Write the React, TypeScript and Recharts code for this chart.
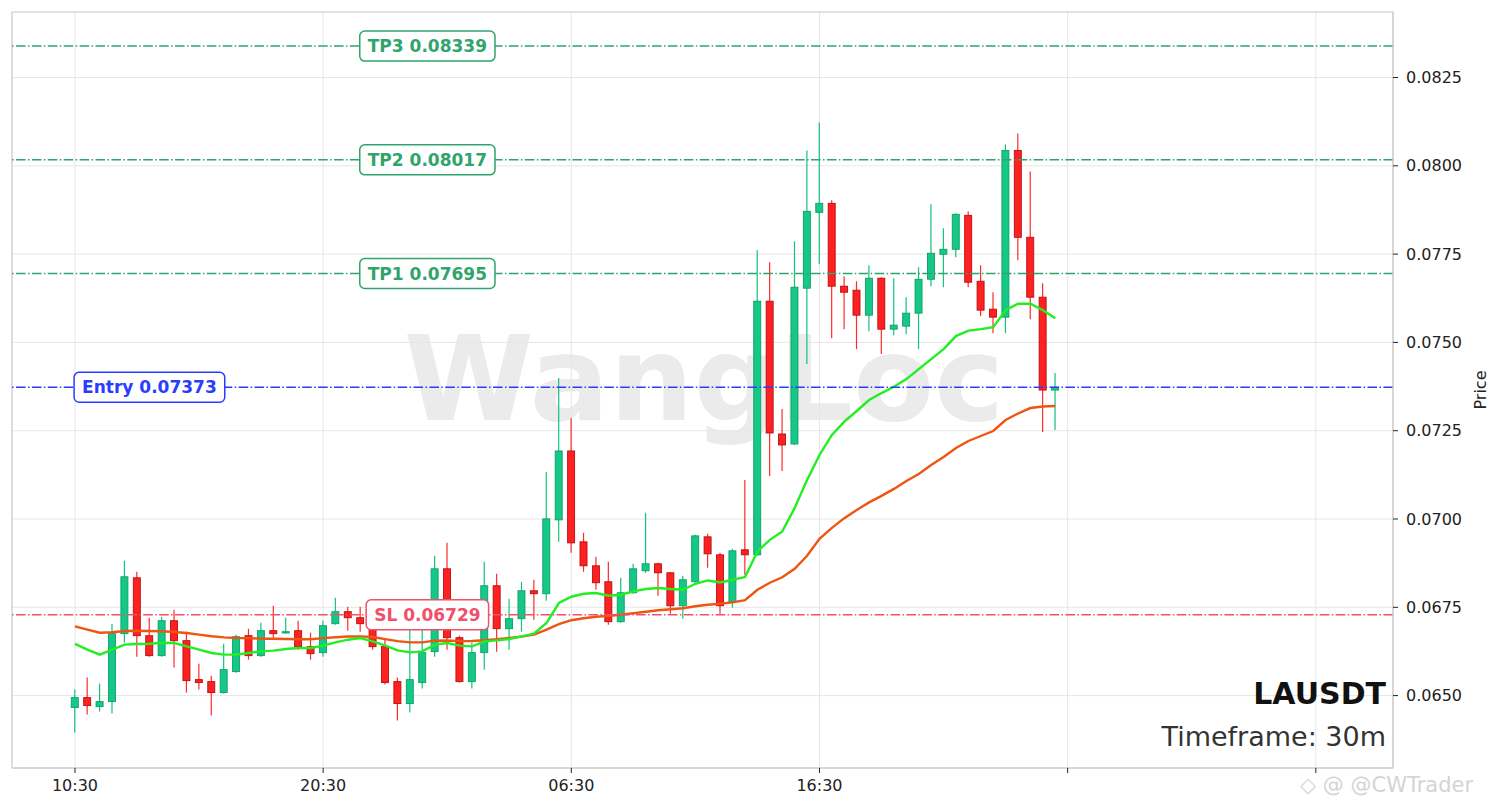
import React from 'react';
import {
  ComposedChart,
  Bar,
  Line,
  XAxis,
  YAxis,
  CartesianGrid,
  ReferenceLine,
  ReferenceDot,
  ReferenceArea,
} from 'recharts';

// ---------------- data ----------------
const opens = [
  0.064661, 0.064943, 0.064689, 0.06483, 0.066753, 0.068336, 0.066696, 0.066131, 0.06712, 0.066555,
  0.065452, 0.065396, 0.065085, 0.065679, 0.066696, 0.066131, 0.066838, 0.066781, 0.066838, 0.066385,
  0.066216, 0.067036, 0.067375, 0.067205, 0.066951, 0.066385, 0.065396, 0.064774, 0.065368, 0.066244,
  0.06859, 0.06664, 0.065396, 0.066216, 0.06811, 0.066894, 0.067177, 0.067968, 0.067884, 0.069976,
  0.071926, 0.069354, 0.068675, 0.068223, 0.067092, 0.067912, 0.068534, 0.068732, 0.068477, 0.067544,
  0.068223, 0.069495, 0.068986, 0.067657, 0.069128, 0.068986, 0.076167, 0.072407, 0.072124, 0.076535,
  0.078683, 0.078938, 0.076591, 0.076478, 0.075771, 0.076817, 0.075375, 0.07546, 0.075828, 0.076789,
  0.077496, 0.077637, 0.078598, 0.076732, 0.075941, 0.075715, 0.080436, 0.077976, 0.07628, 0.073651,
];
const highs = [
  0.06517, 0.065509, 0.065339, 0.067036, 0.068817, 0.068506, 0.067205, 0.067233, 0.067431, 0.066809,
  0.065905, 0.065565, 0.06647, 0.066725, 0.066894, 0.067064, 0.067544, 0.067205, 0.06712, 0.066781,
  0.06712, 0.067771, 0.067516, 0.067516, 0.067149, 0.066583, 0.065509, 0.066979, 0.066922, 0.068958,
  0.069325, 0.066696, 0.066498, 0.068788, 0.068449, 0.067742, 0.068223, 0.068279, 0.071333, 0.07399,
  0.072859, 0.069608, 0.06893, 0.068788, 0.068336, 0.068732, 0.070174, 0.06876, 0.068505, 0.068393,
  0.069552, 0.06958, 0.069043, 0.069156, 0.071107, 0.077609, 0.07727, 0.073114, 0.077863, 0.080436,
  0.081228, 0.079022, 0.076874, 0.076732, 0.077185, 0.076846, 0.076817, 0.07628, 0.077128, 0.078909,
  0.078231, 0.078655, 0.078711, 0.077185, 0.076421, 0.080606, 0.080917, 0.079842, 0.076676, 0.074132,
];
const lows = [
  0.063954, 0.064463, 0.064548, 0.064491, 0.066498, 0.066103, 0.066103, 0.066103, 0.065792, 0.065085,
  0.06517, 0.064435, 0.065057, 0.06565, 0.066018, 0.066103, 0.06664, 0.066753, 0.0663, 0.066018,
  0.066103, 0.067007, 0.066838, 0.066809, 0.0663, 0.065311, 0.064293, 0.064519, 0.065198, 0.066103,
  0.0663, 0.065368, 0.065198, 0.065735, 0.066244, 0.0663, 0.066809, 0.067149, 0.067686, 0.069354,
  0.069043, 0.068506, 0.067997, 0.067007, 0.067064, 0.067884, 0.068477, 0.067827, 0.067318, 0.067177,
  0.068195, 0.068619, 0.067318, 0.067488, 0.068421, 0.068958, 0.07122, 0.071361, 0.072096, 0.074386,
  0.077213, 0.075121, 0.075375, 0.07481, 0.075319, 0.074669, 0.075206, 0.075234, 0.07481, 0.076591,
  0.076563, 0.077411, 0.076563, 0.075743, 0.075262, 0.075262, 0.077326, 0.075658, 0.072464, 0.07252,
];
const closes = [
  0.064943, 0.064717, 0.06483, 0.066753, 0.068364, 0.066696, 0.066131, 0.06712, 0.066555, 0.065424,
  0.065368, 0.065085, 0.065735, 0.066668, 0.066131, 0.066838, 0.066753, 0.066809, 0.066385, 0.066187,
  0.066979, 0.067375, 0.067205, 0.067036, 0.066385, 0.065368, 0.064774, 0.065452, 0.066216, 0.06859,
  0.06664, 0.065396, 0.066216, 0.06811, 0.066894, 0.067177, 0.067968, 0.067884, 0.070004, 0.071926,
  0.069325, 0.068675, 0.068195, 0.067092, 0.067912, 0.06859, 0.068732, 0.068477, 0.067544, 0.068279,
  0.069523, 0.069014, 0.067544, 0.069099, 0.068986, 0.076167, 0.072435, 0.072096, 0.076563, 0.078711,
  0.078938, 0.076591, 0.076421, 0.075771, 0.076817, 0.075375, 0.075489, 0.075828, 0.076789, 0.077524,
  0.077637, 0.078627, 0.076704, 0.075913, 0.075715, 0.080436, 0.077976, 0.07628, 0.073651, 0.07373,
];
const emaFast = [
  0.066462, 0.0663, 0.066159, 0.0663, 0.066442, 0.066462, 0.06647, 0.066498, 0.06649, 0.066394,
  0.0663, 0.066207, 0.066159, 0.066159, 0.066207, 0.066252, 0.066272, 0.06632, 0.066349, 0.066349,
  0.066414, 0.066507, 0.066583, 0.066631, 0.066535, 0.066414, 0.066281, 0.066224, 0.066252, 0.066442,
  0.06649, 0.066414, 0.066394, 0.066535, 0.066563, 0.066603, 0.066676, 0.066753, 0.067055, 0.067621,
  0.067799, 0.067884, 0.067903, 0.067827, 0.067855, 0.067949, 0.068017, 0.068045, 0.068017, 0.067997,
  0.068166, 0.06826, 0.068203, 0.068279, 0.068356, 0.06908, 0.06941, 0.069645, 0.070315, 0.071107,
  0.071813, 0.072379, 0.072755, 0.073057, 0.073368, 0.073566, 0.073744, 0.073962, 0.074245, 0.074527,
  0.07481, 0.075178, 0.075333, 0.075375, 0.075432, 0.075913, 0.076096, 0.076096, 0.075913, 0.075686,
];
const emaSlow = [
  0.066959, 0.066866, 0.066781, 0.066795, 0.066829, 0.066838, 0.066829, 0.066823, 0.066801, 0.066773,
  0.066725, 0.066682, 0.066648, 0.066631, 0.066626, 0.066611, 0.066611, 0.066603, 0.066597, 0.066597,
  0.066626, 0.066654, 0.066674, 0.066676, 0.066659, 0.066597, 0.066541, 0.066507, 0.066507, 0.066555,
  0.066561, 0.066541, 0.066546, 0.066569, 0.066597, 0.066631, 0.066668, 0.066725, 0.066866, 0.067021,
  0.067134, 0.067191, 0.067233, 0.067262, 0.06729, 0.067332, 0.067375, 0.067417, 0.067445, 0.067474,
  0.06753, 0.067573, 0.067601, 0.067638, 0.0677, 0.067997, 0.068195, 0.06835, 0.06859, 0.068958,
  0.069439, 0.06975, 0.070024, 0.070258, 0.07047, 0.070654, 0.070852, 0.071078, 0.071276, 0.071531,
  0.071757, 0.072011, 0.072209, 0.07235, 0.072492, 0.072803, 0.072987, 0.073142, 0.073184, 0.073199,
];

const timeTicks = [0, 20, 40, 60, 80, 100];
const timeLabels = ['10:30', '20:30', '06:30', '16:30', '', ''];
const priceTicks = [0.065, 0.0675, 0.07, 0.0725, 0.075, 0.0775, 0.08, 0.0825];

const levelNames = ['TP3', 'TP2', 'TP1', 'Entry', 'SL'];
const levelValues = [0.08339, 0.08017, 0.07695, 0.07373, 0.06729];

const symbol = 'LAUSDT';
const timeframe = '30m';

// ---------------- styles / layout ----------------
const W = 1501;
const H = 808;
const X_DOMAIN: [number, number] = [-5.075, 106.22];
const Y_DOMAIN: [number, number] = [0.06295, 0.084355];

const UP_FILL = '#16c887';
const UP_EDGE = '#0e9f66';
const UP_WICK = '#14c27f';
const DN_FILL = '#ff2121';
const DN_EDGE = '#b51010';
const DN_WICK = '#ff2a2a';
const FAST_COLOR = '#22ee22';
const SLOW_COLOR = '#ee5511';
const levelColor: Record<string, string> = {
  TP3: '#2fa46c',
  TP2: '#2fa46c',
  TP1: '#2fa46c',
  Entry: '#2a3dff',
  SL: '#f0506a',
};
const levelLabelAt: Record<string, number> = {
  TP3: 28.4,
  TP2: 28.4,
  TP1: 28.4,
  Entry: 6,
  SL: 28.4,
};
const FONT = '"DejaVu Sans", "Liberation Sans", sans-serif';

const data = opens.map((o, i) => ({
  i,
  open: o,
  high: highs[i],
  low: lows[i],
  close: closes[i],
  fast: emaFast[i],
  slow: emaSlow[i],
}));

let measureCtx: CanvasRenderingContext2D | null = null;
function measureText(text: string, font: string): number {
  if (!measureCtx) {
    const c = document.createElement('canvas');
    measureCtx = c.getContext('2d');
  }
  if (!measureCtx) return text.length * 10;
  measureCtx.font = font;
  return measureCtx.measureText(text).width;
}

function CandleShape(props: any) {
  const { x, y, width, height, payload } = props;
  if (!payload || !Number.isFinite(x) || !Number.isFinite(y)) return null;
  const { open, close, high, low } = payload;
  const top = Math.min(y, y + height);
  const bot = Math.max(y, y + height);
  const range = high - low;
  const k = range > 0 ? (bot - top) / range : 0;
  const yO = top + (high - open) * k;
  const yC = top + (high - close) * k;
  const up = close >= open;
  const cx = x + width / 2;
  const bw = 7;
  const bTop = Math.min(yO, yC);
  const bH = Math.max(Math.abs(yO - yC), 1.2);
  return (
    <g>
      <line x1={cx} x2={cx} y1={top} y2={bot} stroke={up ? UP_WICK : DN_WICK} strokeWidth={1.2} />
      <rect
        x={cx - bw / 2}
        y={bTop}
        width={bw}
        height={bH}
        fill={up ? UP_FILL : DN_FILL}
        stroke={up ? UP_EDGE : DN_EDGE}
        strokeWidth={0.9}
      />
    </g>
  );
}

function makeLevelLabel(text: string, color: string) {
  return (props: any) => {
    const { cx, cy } = props;
    if (!Number.isFinite(cx) || !Number.isFinite(cy)) return null;
    const font = `bold 17px ${FONT}`;
    const tw = measureText(text, font);
    const w = tw + 16;
    const h = 30;
    return (
      <g>
        <rect x={cx - w / 2} y={cy - h / 2} width={w} height={h} rx={5} ry={5} fill="#ffffff" stroke={color} strokeWidth={1.5} />
        <text
          x={cx}
          y={cy + 6.2}
          textAnchor="middle"
          fill={color}
          fontWeight="bold"
          fontSize={17}
          fontFamily={FONT}
        >
          {text}
        </text>
      </g>
    );
  };
}

function PriceLabel(props: any) {
  const vb = props.viewBox || {};
  const x = (vb.x ?? 1393) + 87;
  const y = (vb.y ?? 12) + (vb.height ?? 756) / 2;
  return (
    <text x={x} y={y} transform={`rotate(-90 ${x} ${y})`} textAnchor="middle" dominantBaseline="central" fontSize={16} fill="#222" fontFamily={FONT}>
      Price
    </text>
  );
}

export default function App() {
  return (
    <div
      style={{
        position: 'absolute',
        left: 0,
        top: 0,
        width: W,
        height: H,
        background: '#ffffff',
        overflow: 'hidden',
        fontFamily: FONT,
      }}
    >
      {/* background watermark */}
      <svg width={W} height={H} style={{ position: 'absolute', left: 0, top: 0 }}>
        <text x={704} y={420} textAnchor="middle" fontSize={118} fontWeight="bold" fill="#ebebeb" fontFamily={FONT}>
          WangLoc
        </text>
      </svg>
      <div style={{ position: 'absolute', left: 0, top: 0 }}>
        <ComposedChart width={W} height={H} data={data} margin={{ top: 12, right: 0, bottom: 0, left: 12 }}>
          <CartesianGrid stroke="#e6e6e6" strokeWidth={1} />
          <ReferenceArea
            x1={X_DOMAIN[0]}
            x2={X_DOMAIN[1]}
            y1={Y_DOMAIN[0]}
            y2={Y_DOMAIN[1]}
            fill="none"
            fillOpacity={0}
            stroke="#d0d0d0"
            strokeWidth={1.2}
            ifOverflow="visible"
          />
          <XAxis
            dataKey="i"
            type="number"
            domain={X_DOMAIN}
            allowDataOverflow
            ticks={timeTicks}
            tickFormatter={(v: number) => timeLabels[timeTicks.indexOf(v)] ?? ''}
            height={40}
            tickSize={5}
            tickMargin={7}
            axisLine={{ stroke: '#d0d0d0', strokeWidth: 1.2 }}
            tickLine={{ stroke: '#222', strokeWidth: 1 }}
            tick={{ fontSize: 16, fill: '#222', fontFamily: FONT }}
            interval={0}
          />
          <YAxis
            orientation="right"
            type="number"
            domain={Y_DOMAIN}
            allowDataOverflow
            ticks={priceTicks}
            tickFormatter={(v: number) => v.toFixed(4)}
            width={108}
            tickSize={5}
            tickMargin={8}
            axisLine={{ stroke: '#d0d0d0', strokeWidth: 1.2 }}
            tickLine={{ stroke: '#222', strokeWidth: 1 }}
            tick={{ fontSize: 16, fill: '#222', fontFamily: FONT }}
            interval={0}
            label={<PriceLabel />}
          />
          <Bar
            dataKey={(d: any) => [d.low, d.high]}
            barSize={8}
            shape={<CandleShape />}
            isAnimationActive={false}
          />
          <Line type="linear" dataKey="slow" stroke={SLOW_COLOR} strokeWidth={2.4} dot={false} activeDot={false} isAnimationActive={false} />
          <Line type="linear" dataKey="fast" stroke={FAST_COLOR} strokeWidth={2.4} dot={false} activeDot={false} isAnimationActive={false} />
          {levelNames.map((n, k) => (
            <ReferenceLine
              key={'l' + n}
              y={levelValues[k]}
              stroke={levelColor[n]}
              strokeWidth={1.5}
              strokeDasharray="9.6 2.4 1.5 2.4"
            />
          ))}
          {levelNames.map((n, k) => (
            <ReferenceDot
              key={'d' + n}
              x={levelLabelAt[n]}
              y={levelValues[k]}
              r={1}
              shape={makeLevelLabel(`${n} ${levelValues[k].toFixed(5)}`, levelColor[n])}
            />
          ))}
        </ComposedChart>
      </div>
      {/* foreground annotations */}
      <svg width={W} height={H} style={{ position: 'absolute', left: 0, top: 0, pointerEvents: 'none' }}>
        <text x={1386} y={704} textAnchor="end" fontSize={30} fontWeight="bold" fill="#111" fontFamily={FONT}>
          {symbol}
        </text>
        <text x={1386} y={746} textAnchor="end" fontSize={27} fill="#333" fontFamily={FONT}>
          {`Timeframe: ${timeframe}`}
        </text>
        <text x={1300} y={792} fontSize={21} fill="#d4d4d4" fontFamily={FONT}>
          {'◇ @ @CWTrader'}
        </text>
      </svg>
    </div>
  );
}
